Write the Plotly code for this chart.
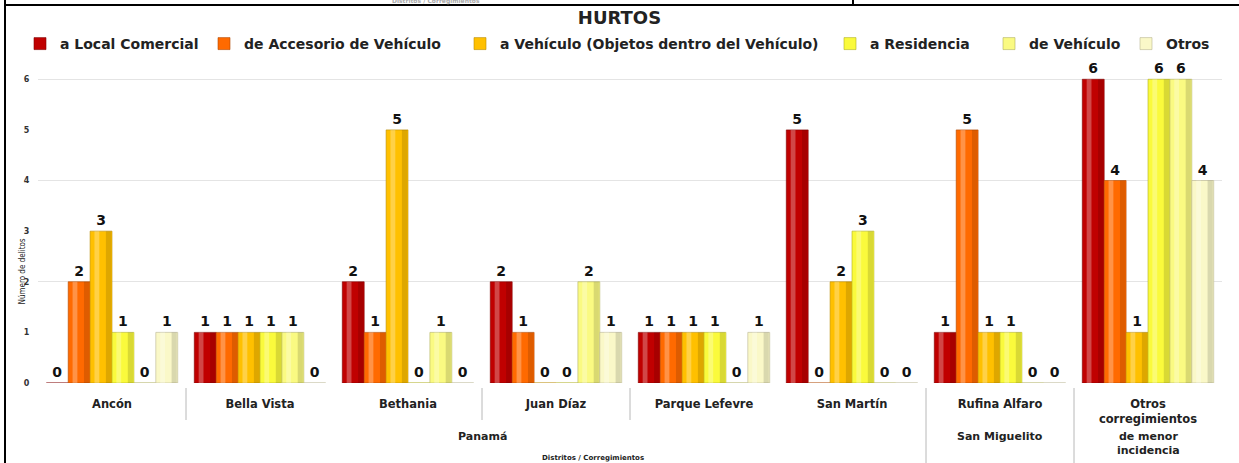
import plotly.graph_objects as go

# ---------------- data ----------------
categories = ["Ancón", "Bella Vista", "Bethania", "Juan Díaz", "Parque Lefevre",
              "San Martín", "Rufina Alfaro", "Otros corregimientos"]
tick_labels = ["Ancón", "Bella Vista", "Bethania", "Juan Díaz", "Parque Lefevre",
               "San Martín", "Rufina Alfaro", "Otros<br>corregimientos"]
groups = ["Panamá", "Panamá", "Panamá", "Panamá", "Panamá", "Panamá",
          "San Miguelito", "de menor<br>incidencia"]

series_names = ["a Local Comercial", "de Accesorio de Vehículo",
                "a Vehículo (Objetos dentro del Vehículo)", "a Residencia",
                "de Vehículo", "Otros"]
local_comercial = [0, 1, 2, 2, 1, 5, 1, 6]
accesorio_vehiculo = [2, 1, 1, 1, 1, 0, 5, 4]
objetos_vehiculo = [3, 1, 5, 0, 1, 2, 1, 1]
residencia = [1, 1, 0, 0, 1, 3, 1, 6]
vehiculo = [0, 1, 1, 2, 0, 0, 0, 6]
otros = [1, 0, 0, 1, 1, 0, 0, 4]
series_values = [local_comercial, accesorio_vehiculo, objetos_vehiculo,
                 residencia, vehiculo, otros]
y_ticks = [0, 1, 2, 3, 4, 5, 6]

# ---------------- style ----------------
colors = ["#C00000", "#FF6A00", "#FFC000", "#FAFA3C", "#FAFA82", "#FAF8C8"]
edges = ["#800000", "#B04800", "#B88A00", "#B0B020", "#B0B060", "#B8B690"]
legend_text_x = [60, 244, 500, 870, 1029, 1166]   # pixel where each legend label starts

W, H = 1239, 463
ML, MR, MT, MB = 38, 17, 59, 80
PW, PH = W - ML - MR, H - MT - MB
YMAX = 6.4


def px_x(px):
    return (px - ML) / PW


def px_y(py):
    return (H - MB - py) / PH


fig = go.Figure()
bw = 0.148
n = len(series_names)
legend_layouts = {}
for i, (name, vals) in enumerate(zip(series_names, series_values)):
    off = -n / 2 * bw + i * bw
    lg = "legend" if i == 0 else f"legend{i + 1}"
    legend_layouts[lg] = dict(
        orientation="h", xref="container", yref="container",
        x=(legend_text_x[i] - 40) / W, xanchor="left",
        y=1 - 44 / H, yanchor="middle",
        font=dict(family="DejaVu Sans", size=14, color="#222222", weight="bold"),
        itemwidth=30, bgcolor="rgba(0,0,0,0)", borderwidth=0,
    )
    fig.add_trace(go.Bar(
        name=name, x=categories, y=vals, width=bw, offset=off, legend=lg,
        marker=dict(color=colors[i], line=dict(color=edges[i], width=0.6)),
        text=vals, textposition="outside", cliponaxis=False,
        textfont=dict(family="DejaVu Sans", size=14, color="#111111", weight="bold"),
        hoverinfo="y+name",
    ))
    # highlight strip (cylinder look)
    fig.add_trace(go.Bar(
        x=categories, y=vals, width=bw * 0.22, offset=off + bw * 0.2,
        marker=dict(color="rgba(255,255,255,0.28)", line=dict(width=0)),
        showlegend=False, hoverinfo="skip",
    ))
    # shadow strip
    fig.add_trace(go.Bar(
        x=categories, y=vals, width=bw * 0.24, offset=off + bw * 0.72,
        marker=dict(color="rgba(0,0,0,0.13)", line=dict(width=0)),
        showlegend=False, hoverinfo="skip",
    ))

# invisible trace carrying the secondary axis used for gridlines every 2 units
fig.add_trace(go.Scatter(x=[categories[0]], y=[0], yaxis="y2", mode="markers",
                         marker=dict(opacity=0), showlegend=False, hoverinfo="skip"))

shapes = []
short_dividers = [0.5, 2.5, 3.5]
tall_dividers = [k - 0.5 for k in range(1, len(groups)) if groups[k] != groups[k - 1]]
for xv in short_dividers:
    shapes.append(dict(type="line", xref="x", yref="paper", x0=xv, x1=xv,
                       y0=px_y(388), y1=px_y(420), line=dict(color="#b8b8b8", width=1)))
for xv in tall_dividers:
    shapes.append(dict(type="line", xref="x", yref="paper", x0=xv, x1=xv,
                       y0=px_y(388), y1=px_y(463), line=dict(color="#b8b8b8", width=1)))
# page frame lines
shapes.append(dict(type="line", xref="paper", yref="paper", x0=px_x(4), x1=px_x(1239),
                   y0=px_y(5), y1=px_y(5), line=dict(color="black", width=2)))
shapes.append(dict(type="line", xref="paper", yref="paper", x0=px_x(5), x1=px_x(5),
                   y0=px_y(0), y1=px_y(463), line=dict(color="black", width=2)))
shapes.append(dict(type="line", xref="paper", yref="paper", x0=px_x(853), x1=px_x(853),
                   y0=px_y(0), y1=px_y(5), line=dict(color="black", width=2)))

annotations = []
seen = []
for g in groups:
    if g not in seen:
        seen.append(g)
for g in seen:
    idx = [k for k, gg in enumerate(groups) if gg == g]
    annotations.append(dict(text=g, x=sum(idx) / len(idx), xref="x", y=px_y(428), yref="paper",
                            yanchor="top", showarrow=False,
                            font=dict(family="DejaVu Sans", size=11, color="#222222", weight="bold")))
annotations.append(dict(text="Distritos / Corregimientos", x=px_x(593), xref="paper",
                        y=px_y(458), yref="paper", showarrow=False, yanchor="middle",
                        font=dict(family="DejaVu Sans", size=7, color="#222222", weight="bold")))
annotations.append(dict(text="Distritos / Corregimientos", x=px_x(390), xref="paper",
                        y=px_y(1), yref="paper", showarrow=False, yanchor="middle",
                        font=dict(family="DejaVu Sans", size=6, color="#aaaaaa", weight="bold")))
annotations.append(dict(text="Número de delitos", x=px_x(15), xref="paper", y=px_y(272),
                        yref="paper", textangle=-90, showarrow=False,
                        font=dict(family="Liberation Sans Narrow, DejaVu Sans Condensed, Open Sans",
                                  size=8, color="#222222")))

fig.update_layout(
    width=W, height=H,
    margin=dict(l=ML, r=MR, t=MT, b=MB, autoexpand=False),
    paper_bgcolor="white", plot_bgcolor="white",
    barmode="overlay",
    title=dict(text="HURTOS", x=0.5, xanchor="center", y=1 - 18 / H, yanchor="middle",
               font=dict(family="DejaVu Sans", size=18, color="#222222", weight="bold")),
    xaxis=dict(type="category", tickvals=categories, ticktext=tick_labels,
               showgrid=False, zeroline=False, showline=False, automargin=False,
               ticks="outside", ticklen=10, tickcolor="rgba(0,0,0,0)",
               tickfont=dict(family="DejaVu Sans", size=11.5, color="#222222", weight="bold"),
               range=[-0.5, len(categories) - 0.5]),
    yaxis=dict(range=[0, YMAX], tickvals=y_ticks, showgrid=False, zeroline=False,
               showline=False, ticks="outside", ticklen=6, tickcolor="rgba(0,0,0,0)",
               automargin=False,
               tickfont=dict(family="DejaVu Sans", size=8, color="#333333", weight="bold")),
    yaxis2=dict(range=[0, YMAX], overlaying="y", dtick=2, showgrid=True,
                gridcolor="#e4e4e4", gridwidth=1, showticklabels=False, zeroline=False,
                showline=False, automargin=False),
    shapes=shapes,
    annotations=annotations,
    showlegend=True,
    **legend_layouts,
)

fig.write_html("out.html", config={"displayModeBar": False},
               post_script="document.body.style.margin='0';document.body.style.padding='0';"
                           "document.body.style.overflow='hidden';")
